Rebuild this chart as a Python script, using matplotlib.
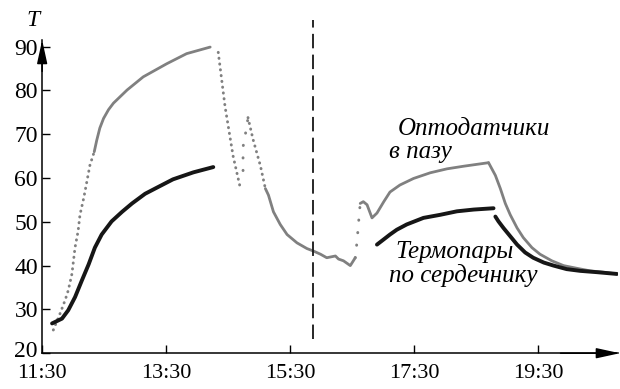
import matplotlib.pyplot as plt
from matplotlib.transforms import ScaledTranslation

plt.rcParams["font.family"] = ["Liberation Serif", "DejaVu Serif"]

# time in hours after 11:30, temperature T
tick_pos = [0, 2, 4, 6, 8]
tick_labels = ["11:30", "13:30", "15:30", "17:30", "19:30"]
y_ticks = [20, 30, 40, 50, 60, 70, 80, 90]

# optical sensors in the slot (grey)
opto_rise_t = [0.18, 0.29, 0.37, 0.42, 0.48, 0.53, 0.58, 0.61, 0.67, 0.72, 0.77, 0.84]
opto_rise_T = [25.3, 29.1, 32.1, 34.3, 38.1, 44.1, 47.9, 51.6, 55.4, 59.1, 62.9, 66.0]
opto_heat_t = [0.84, 0.88, 0.93, 0.99, 1.07, 1.15, 1.37, 1.63, 2.01, 2.33, 2.71]
opto_heat_T = [66.0, 68.6, 71.4, 73.6, 75.6, 77.1, 80.1, 83.1, 86.1, 88.4, 89.9]
opto_drop_t = [2.84, 2.95, 3.08, 3.19]
opto_drop_T = [88.7, 76.3, 65.0, 58.1]
opto_jump1_t = [3.24, 3.24, 3.27, 3.30, 3.32]
opto_jump1_T = [61.7, 67.1, 69.5, 71.6, 73.8]
opto_fall_t = [3.32, 3.40, 3.52, 3.60]
opto_fall_T = [73.8, 68.9, 62.8, 57.6]
opto_cool_t = [3.60, 3.65, 3.73, 3.84, 3.95, 4.11, 4.27, 4.38, 4.49, 4.59,
               4.73, 4.78, 4.86, 4.97, 5.05]
opto_cool_T = [57.6, 56.1, 52.3, 49.4, 47.1, 45.2, 43.9, 43.3, 42.6, 41.8,
               42.2, 41.5, 41.1, 40.0, 41.8]
opto_jump2_t = [5.05, 5.08, 5.10, 5.13]
opto_jump2_T = [41.8, 45.7, 49.3, 54.2]
opto_heat2_t = [5.13, 5.18, 5.24, 5.32, 5.40, 5.51, 5.61, 5.77, 5.99, 6.26,
                6.53, 6.80, 7.20]
opto_heat2_T = [54.2, 54.6, 53.9, 50.9, 52.0, 54.6, 56.8, 58.4, 59.9, 61.2,
                62.1, 62.7, 63.5]
opto_cool2_t = [7.20, 7.31, 7.39, 7.47, 7.55, 7.66, 7.76, 7.90, 8.03, 8.22,
                8.41, 8.62, 8.84, 9.05, 9.27]
opto_cool2_T = [63.5, 60.6, 57.6, 54.2, 51.6, 48.6, 46.4, 44.1, 42.6, 41.1,
                40.0, 39.4, 38.8, 38.5, 38.1]

# thermocouples in the core (black)
tc1_t = [0.16, 0.32, 0.42, 0.53, 0.64, 0.75, 0.85, 0.96, 1.12, 1.29, 1.45,
         1.66, 1.85, 2.11, 2.44, 2.76]
tc1_T = [26.8, 27.9, 29.8, 32.8, 36.6, 40.3, 44.1, 47.1, 50.1, 52.3, 54.2,
         56.4, 57.8, 59.7, 61.3, 62.5]
tc2_t = [5.40, 5.51, 5.61, 5.72, 5.88, 6.15, 6.42, 6.69, 6.96, 7.28]
tc2_T = [44.8, 46.0, 47.1, 48.2, 49.4, 50.9, 51.6, 52.4, 52.8, 53.1]
tc3_t = [7.31, 7.36, 7.44, 7.55, 7.66, 7.79, 7.92, 8.09, 8.25, 8.46, 8.68,
         8.95, 9.27]
tc3_T = [51.2, 50.1, 48.6, 46.7, 44.8, 43.0, 41.8, 40.7, 40.0, 39.2, 38.8,
         38.5, 38.1]

marker_time = 4.37

GREY = "#808080"
BLACK = "#161616"

fig = plt.figure(figsize=(6.2, 3.89), dpi=100)
ax = fig.add_axes([0.068, 0.092, 0.929, 0.805])

solid = dict(color=GREY, lw=2.0, solid_capstyle="round", solid_joinstyle="round")
dots = dict(color=GREY, lw=2.1, linestyle=(0, (0.1, 1.9)), dash_capstyle="round")
sparse = dict(color=GREY, lw=2.1, linestyle=(0, (0.1, 4.2)), dash_capstyle="round")

ax.plot(opto_rise_t, opto_rise_T, **dots)
ax.plot(opto_heat_t, opto_heat_T, **solid)
ax.plot(opto_drop_t, opto_drop_T, **dots)
ax.plot(opto_jump1_t, opto_jump1_T, **sparse)
ax.plot(opto_fall_t, opto_fall_T, **dots)
ax.plot(opto_cool_t, opto_cool_T, **solid)
ax.plot(opto_jump2_t, opto_jump2_T, **sparse)
ax.plot(opto_heat2_t, opto_heat2_T, **solid)
ax.plot(opto_cool2_t, opto_cool2_T, **solid)

for t, T in [(tc1_t, tc1_T), (tc2_t, tc2_T), (tc3_t, tc3_T)]:
    ax.plot(t, T, color=BLACK, lw=2.8, solid_capstyle="round",
            solid_joinstyle="round")

ax.plot([marker_time, marker_time], [23.2, 96.0], color=BLACK, lw=1.3,
        linestyle=(0, (8, 3.5)), clip_on=False)

ax.set_xlim(0, 9.29)
ax.set_ylim(20, 91.5)
ax.set_xticks(tick_pos)
ax.set_xticklabels(tick_labels)
ax.set_yticks(y_ticks)
ax.tick_params(direction="in", length=6, width=1, labelsize=17, pad=3)
ax.tick_params(axis="x", pad=8, labelsize=16)
ax.spines[["top", "right"]].set_visible(False)
for s in ["left", "bottom"]:
    ax.spines[s].set_linewidth(1.1)

# lift the "20" label a little so it clears "11:30"
lbl = ax.get_yticklabels()[0]
lbl.set_transform(lbl.get_transform() + ScaledTranslation(0, 3 / 72, fig.dpi_scale_trans))

arrow = dict(arrowstyle="-|>,head_length=1.1,head_width=0.24",
             color="black", lw=1.1, mutation_scale=13, shrinkA=0, shrinkB=0)
ax.annotate("", xy=(0, 1.0), xytext=(0, 0.9), xycoords="axes fraction",
            arrowprops=arrow)
ax.annotate("", xy=(1.003, 0), xytext=(0.9, 0), xycoords="axes fraction",
            arrowprops=arrow)

fig.text(0.053, 0.947, "T", fontsize=17, style="italic", ha="center", va="center")

ann = dict(fontsize=18, style="italic", ha="left", va="center")
ax.text(5.73, 71.1, "Оптодатчики", **ann)
ax.text(5.60, 66.0, "в пазу", **ann)
ax.text(5.69, 43.0, "Термопары", **ann)
ax.text(5.60, 37.8, "по сердечнику", **ann)

fig.savefig("out.png", dpi=100)
